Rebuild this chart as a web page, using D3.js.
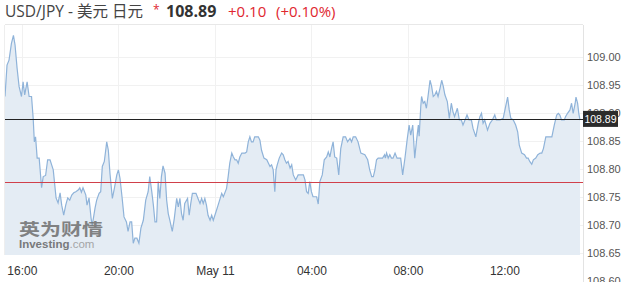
<!DOCTYPE html>
<html>
<head>
<meta charset="utf-8">
<script src="https://cdn.jsdelivr.net/npm/d3@7"></script>
<style>
  body { margin: 0; background: #fff; }
  svg { display: block; }
</style>
</head>
<body>
<script>
const width = 637
const height = 282

// minutes after May 10 16:00, and the USD/JPY quote at that moment
const offsets = [-42,-37,-32,-26,-21,-17,-12,-7,-1,3,7,13,18,24,28,31,34,38,43,49,53,59,64,70,78,85,90,95,99,104,109,114,119,124,129,134,140,144,148,152,159,162,167,172,175,182,186,192,196,200,205,211,215,219,225,230,236,240,244,249,254,260,264,269,273,277,281,286,291,296,302,308,314,318,323,327,331,335,339,343,347,351,356,360,364,368,374,379,385,389,393,397,401,405,412,416,420,424,429,433,438,443,447,451,455,459,463,468,472,476,480,488,497,501,509,513,517,522,526,530,534,538,542,547,555,559,563,567,571,575,579,588,592,596,602,609,617,621,625,629,632,635,640,646,650,654,658,662,667,671,675,681,687,700,704,708,712,716,720,724,733,737,741,747,752,758,762,766,770,774,778,783,788,793,799,805,810,816,820,824,830,836,843,853,860,865,870,874,878,882,886,897,902,904,907,911,915,919,923,928,933,942,947,953,958,963,967,972,977,982,986,988,992,994,998,1002,1006,1010,1015,1019,1023,1027,1031,1035,1040,1044,1048,1052,1058,1063,1068,1072,1076,1083,1088,1093,1097,1102,1107,1112,1118,1122,1129,1135,1139,1143,1147,1151,1158,1164,1170,1176,1180,1189,1197,1203,1208,1212,1216,1222,1228,1233,1237,1243,1250,1255,1259,1263,1268,1272,1278,1283,1289,1293,1297,1303,1309,1318,1324,1330,1334,1338,1342,1349,1352,1357,1363,1367,1371,1376,1378,1382,1385,1388]
const prices = [108.930,108.986,108.995,109.025,109.039,109.022,108.981,108.948,108.930,108.956,108.933,108.956,108.930,108.930,108.892,108.849,108.858,108.820,108.820,108.767,108.787,108.789,108.817,108.817,108.799,108.749,108.740,108.758,108.736,108.718,108.736,108.749,108.745,108.754,108.758,108.760,108.763,108.767,108.759,108.767,108.754,108.736,108.749,108.713,108.700,108.731,108.745,108.757,108.760,108.805,108.814,108.849,108.834,108.793,108.748,108.766,108.790,108.799,108.784,108.751,108.715,108.706,108.689,108.706,108.706,108.668,108.677,108.677,108.668,108.695,108.709,108.745,108.760,108.787,108.760,108.736,108.706,108.706,108.778,108.748,108.787,108.806,108.793,108.745,108.721,108.709,108.689,108.712,108.748,108.733,108.748,108.721,108.709,108.739,108.748,108.718,108.739,108.757,108.757,108.757,108.748,108.739,108.748,108.739,108.748,108.736,108.718,108.709,108.718,108.709,108.718,108.736,108.757,108.751,108.766,108.787,108.811,108.829,108.822,108.817,108.817,108.811,108.822,108.829,108.829,108.831,108.849,108.858,108.849,108.849,108.858,108.858,108.852,108.834,108.820,108.817,108.805,108.808,108.799,108.760,108.799,108.808,108.820,108.829,108.826,108.817,108.811,108.814,108.802,108.808,108.790,108.781,108.790,108.790,108.781,108.760,108.757,108.778,108.760,108.751,108.751,108.738,108.778,108.790,108.817,108.822,108.831,108.822,108.837,108.849,108.822,108.820,108.790,108.837,108.858,108.858,108.849,108.855,108.849,108.858,108.858,108.849,108.829,108.826,108.817,108.799,108.787,108.787,108.799,108.817,108.820,108.820,108.826,108.820,108.829,108.820,108.826,108.820,108.820,108.829,108.820,108.820,108.790,108.822,108.852,108.879,108.861,108.879,108.820,108.855,108.879,108.859,108.912,108.930,108.918,108.921,108.909,108.930,108.959,108.948,108.930,108.933,108.939,108.930,108.945,108.959,108.948,108.933,108.921,108.891,108.918,108.903,108.894,108.909,108.888,108.888,108.879,108.888,108.897,108.888,108.888,108.873,108.858,108.882,108.894,108.900,108.882,108.888,108.870,108.882,108.888,108.897,108.888,108.888,108.891,108.912,108.929,108.906,108.891,108.888,108.879,108.867,108.843,108.829,108.826,108.820,108.820,108.814,108.809,108.817,108.820,108.826,108.829,108.829,108.837,108.858,108.858,108.858,108.879,108.897,108.900,108.897,108.888,108.888,108.894,108.900,108.906,108.918,108.900,108.918,108.929,108.918,108.900,108.888]

const yTicks = [108.60, 108.65, 108.70, 108.75, 108.80, 108.85, 108.90, 108.95, 109.00]
const xTickOffsets = [0, 240, 480, 720, 960, 1200]
const xTickLabels = ["16:00", "20:00", "May 11", "04:00", "08:00", "12:00"]

const lastPrice = 108.89
const prevClose = 108.778
const title = "USD/JPY - 美元 日元"
const priceText = "108.89"
const changeText = "+0.10"
const changePctText = "(+0.10%)"

const start = new Date(2019, 4, 10, 16, 0)
const toDate = m => d3.timeMinute.offset(start, m)
const data = offsets.map((m, i) => ({ t: toDate(m), v: prices[i] }))

const plot = { left: 5, right: 583, top: 25, bottom: 255 }

const svg = d3.select("body").append("svg")
    .attr("width", width)
    .attr("height", height)

const x = d3.scaleTime()
    .domain(d3.extent(data, d => d.t))
    .range([plot.left, 580])

const y = d3.scaleLinear()
    .domain([108.60, 109.00])
    .range([281.3, 57.3])

svg.append("defs").append("clipPath").attr("id", "clip")
    .append("rect")
    .attr("x", plot.left).attr("y", plot.top)
    .attr("width", plot.right - plot.left).attr("height", plot.bottom - plot.top)

// grid
const grid = svg.append("g").attr("clip-path", "url(#clip)")
grid.selectAll("line.h")
    .data(yTicks)
    .enter().append("line")
    .attr("x1", plot.left).attr("x2", plot.right)
    .attr("y1", d => Math.round(y(d)) + 0.5).attr("y2", d => Math.round(y(d)) + 0.5)
    .attr("stroke", "#f1f1f1")
grid.selectAll("line.v")
    .data(xTickOffsets)
    .enter().append("line")
    .attr("x1", d => Math.round(x(toDate(d))) + 0.5).attr("x2", d => Math.round(x(toDate(d))) + 0.5)
    .attr("y1", plot.top).attr("y2", plot.bottom)
    .attr("stroke", "#f1f1f1")

// area + line
const area = d3.area()
    .x(d => x(d.t))
    .y0(plot.bottom)
    .y1(d => y(d.v))
const line = d3.line()
    .x(d => x(d.t))
    .y(d => y(d.v))

const chart = svg.append("g").attr("clip-path", "url(#clip)")
chart.append("path")
    .attr("d", area(data))
    .attr("fill", "#e4ecf4")
chart.append("path")
    .attr("d", line(data))
    .attr("fill", "none")
    .attr("stroke", "#8fb3d9")
    .attr("stroke-width", 1.2)

// watermark
const wm = svg.append("g").attr("opacity", 0.85)
wm.append("text")
    .attr("transform", "translate(19,235) scale(1,0.78)")
    .attr("font-family", "Noto Sans CJK SC")
    .attr("font-weight", "bold")
    .attr("font-size", 21)
    .attr("fill", "#6f6f6f")
    .text("英为财情")
wm.append("text")
    .attr("x", 19).attr("y", 248)
    .attr("font-family", "Liberation Sans, Arial, sans-serif")
    .attr("font-size", 11.5)
    .attr("fill", "#666")
    .call(t => t.append("tspan").attr("font-weight", "bold").text("Investing"))
    .call(t => t.append("tspan").attr("fill", "#999").text(".com"))

// reference lines
svg.append("line")
    .attr("x1", plot.left).attr("x2", plot.right)
    .attr("y1", Math.round(y(prevClose)) + 0.5).attr("y2", Math.round(y(prevClose)) + 0.5)
    .attr("stroke", "#d0404a")
svg.append("line")
    .attr("x1", plot.left).attr("x2", plot.right)
    .attr("y1", Math.round(y(lastPrice)) + 0.5).attr("y2", Math.round(y(lastPrice)) + 0.5)
    .attr("stroke", "#222")

// frame
svg.append("line")
    .attr("x1", plot.left).attr("x2", plot.right)
    .attr("y1", plot.top - 0.5).attr("y2", plot.top - 0.5)
    .attr("stroke", "#e8e8e8")
svg.append("line")
    .attr("x1", plot.left - 0.5).attr("x2", plot.left - 0.5)
    .attr("y1", plot.top).attr("y2", plot.bottom)
    .attr("stroke", "#eeeeee")
svg.append("line")
    .attr("x1", plot.right + 0.5).attr("x2", plot.right + 0.5)
    .attr("y1", plot.top).attr("y2", height)
    .attr("stroke", "#e3e3e3")

// y axis
const yAxis = svg.append("g")
    .attr("transform", `translate(${plot.right},0)`)
    .call(d3.axisRight(y).tickValues(yTicks).tickFormat(d3.format(".2f")).tickSize(0).tickPadding(4))
yAxis.select(".domain").remove()
yAxis.selectAll("text")
    .attr("font-family", "Liberation Sans, Arial, sans-serif")
    .attr("font-size", 11)
    .attr("fill", "#555")

// current price tag
const tag = svg.append("g").attr("transform", `translate(${plot.right},${y(lastPrice)})`)
tag.append("rect")
    .attr("x", 0).attr("y", -8)
    .attr("width", 35).attr("height", 16)
    .attr("fill", "#2b2b2b")
tag.append("text")
    .attr("x", 17.5).attr("y", 4)
    .attr("text-anchor", "middle")
    .attr("font-family", "Liberation Sans, Arial, sans-serif")
    .attr("font-size", 10.5)
    .attr("fill", "#fff")
    .text(priceText)

// x axis
const xAxis = svg.append("g")
    .attr("transform", `translate(0,${plot.bottom})`)
    .call(d3.axisBottom(x)
        .tickValues(xTickOffsets.map(toDate))
        .tickFormat((d, i) => xTickLabels[i])
        .tickSize(0).tickPadding(11))
xAxis.select(".domain").remove()
xAxis.selectAll("text")
    .attr("font-family", "Liberation Sans, Arial, sans-serif")
    .attr("font-size", 12)
    .attr("fill", "#333")

// header
const head = svg.append("g").attr("font-family", "Open Sans, Noto Sans CJK SC, sans-serif")
head.append("text")
    .attr("x", 5).attr("y", 17)
    .attr("font-size", 15.5)
    .attr("fill", "#444")
    .text(title)
head.append("text")
    .attr("x", 153).attr("y", 14)
    .attr("font-size", 12)
    .attr("fill", "#e0262f")
    .text("*")
head.append("text")
    .attr("x", 166).attr("y", 17)
    .attr("font-size", 16)
    .attr("font-weight", "bold")
    .attr("fill", "#333")
    .text(priceText)
head.append("text")
    .attr("x", 228).attr("y", 17)
    .attr("font-size", 15)
    .attr("fill", "#e0262f")
    .text(changeText)
head.append("text")
    .attr("x", 276).attr("y", 17)
    .attr("font-size", 15)
    .attr("fill", "#e0262f")
    .text(changePctText)
</script>
</body>
</html>
